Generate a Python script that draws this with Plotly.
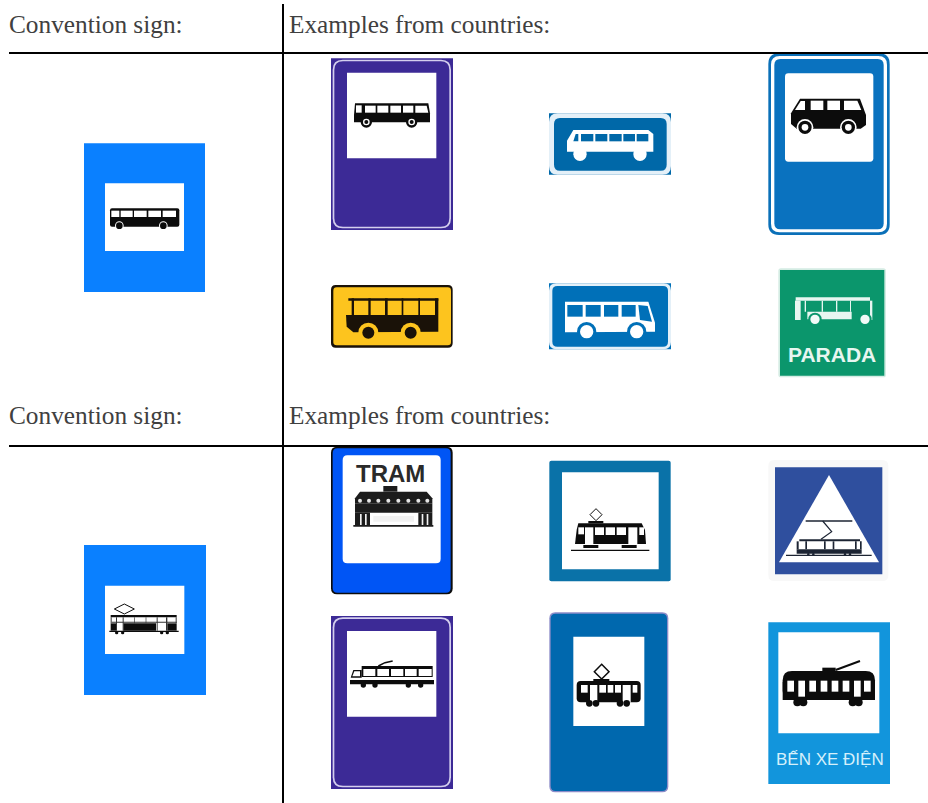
import plotly.graph_objects as go

HEADER_LEFT = "Convention sign:"
HEADER_RIGHT = "Examples from countries:"
HEADER_Y = [24, 415]
RULE_Y = [53, 446]
RULE_X = 283
SIGN_TEXTS = {"parada": "PARADA", "tram": "TRAM", "ben": "BẾN XE ĐIỆN"}

PURPLE = "#3c2a96"
LAVENDER = "#d4cfee"
ROYAL = "#0a80ff"
BK = "#0c0c0c"
WH = "#ffffff"

shapes = []
annos = []


def nb(**k):
    k.setdefault("line", dict(width=0))
    k.update(layer="above", xref="x", yref="y")
    shapes.append(k)


class Z:

    def __init__(self, ox, oy):
        self.ox, self.oy = ox, oy

    def X(self, v):
        return self.ox + v / 3

    def Y(self, v):
        return self.oy + v / 3

    def rect(self, x0, y0, x1, y1, c):
        nb(type="rect", x0=self.X(x0), y0=self.Y(y0), x1=self.X(x1), y1=self.Y(y1), fillcolor=c)

    def rr(self, x0, y0, x1, y1, r, c):
        a, b, d, e = self.X(x0), self.Y(y0), self.X(x1), self.Y(y1)
        r = r / 3
        p = (f"M{a+r},{b}L{d-r},{b}Q{d},{b} {d},{b+r}L{d},{e-r}Q{d},{e} {d-r},{e}"
             f"L{a+r},{e}Q{a},{e} {a},{e-r}L{a},{b+r}Q{a},{b} {a+r},{b}Z")
        nb(type="path", path=p, fillcolor=c)

    def circ(self, cx, cy, r, c):
        nb(type="circle", x0=self.X(cx - r), y0=self.Y(cy - r), x1=self.X(cx + r), y1=self.Y(cy + r), fillcolor=c)

    def poly(self, pts, c, outline=None, w=1):
        p = "M" + "L".join(f"{self.X(x)},{self.Y(y)}" for x, y in pts) + "Z"
        nb(type="path", path=p, fillcolor=c, line=dict(width=w, color=outline) if outline else dict(width=0))

    def line(self, pts, c, w=1):
        p = "M" + "L".join(f"{self.X(x)},{self.Y(y)}" for x, y in pts)
        nb(type="path", path=p, line=dict(color=c, width=w))

    def rects(self, lst, c):
        for x0, y0, x1, y1 in lst:
            self.rect(x0, y0, x1, y1, c)

    def diamond(self, cx, cy, hx, hy, w=1):
        self.poly([(cx, cy - hy), (cx + hx, cy), (cx, cy + hy), (cx - hx, cy)], WH, BK, w)

    def text(self, t, x, y, size, color, font="Liberation Sans"):
        annos.append(dict(text=t, x=self.X(x), y=self.Y(y), xref="x", yref="y", showarrow=False,
                          xanchor="center", yanchor="middle",
                          font=dict(size=size, color=color, family=font)))


def purple_frame(z, y0, y1, py0, py1):
    z.rect(33, y0, 399, y1, PURPLE)
    z.rr(38, y0 + 4, 393, y1 - 5, 30, LAVENDER)
    z.rr(43, y0 + 9, 388, y1 - 10, 26, PURPLE)
    z.rect(81, py0, 349, py1, WH)


# Left column: convention bus
z = Z(80, 140)
z.rect(12, 10, 375, 456, ROYAL)
z.rect(75, 130, 312, 333, WH)
z.rr(90, 205, 298, 260, 6, BK)
z.rects([(94, 212, 118, 231), (122, 212, 158, 231), (162, 212, 200, 231), (205, 212, 243, 231), (248, 212, 288, 231)], WH)
for cx in (118, 250):
    z.circ(cx, 257, 13, WH)
    z.circ(cx, 257, 10, BK)

# Left column: convention tram
z = Z(80, 540)
z.rect(12, 15, 378, 465, ROYAL)
z.rect(75, 137, 313, 342, WH)
z.diamond(133, 207, 30, 15, 1)
z.rects([(92, 225, 290, 232), (92, 250, 108, 272), (130, 250, 228, 272), (262, 250, 290, 272), (88, 272, 296, 276)], BK)
z.rects([(92, 232, 95, 250), (108, 232, 111, 272), (128, 232, 131, 272), (163, 232, 165, 250), (197, 232, 199, 250),
         (230, 232, 233, 272), (258, 232, 262, 272), (287, 232, 290, 250), (95, 245, 290, 248)], "#333333")
for cx in (110, 128, 245, 262):
    z.circ(cx, 278, 5, BK)

# Top row bus examples
z = Z(320, 50)
purple_frame(z, 25, 540, 68, 325)
z.poly([(105, 160), (325, 160), (330, 190), (330, 217), (102, 217), (102, 195)], BK)
z.rects([(108, 166, 125, 188), (135, 167, 167, 188), (172, 167, 205, 188), (211, 167, 243, 188), (249, 167, 280, 188)], WH)
z.poly([(286, 167), (320, 167), (325, 188), (286, 188)], WH)
for cx in (139, 275):
    z.circ(cx, 216, 17, BK)
    z.circ(cx, 216, 10, WH)
    z.circ(cx, 216, 6, BK)

# Blue rectangle bus
z.rect(687, 190, 1053, 374, "#0068a8")
z.rr(687, 190, 1053, 374, 26, "#e4f0f8")
z.rr(702, 204, 1040, 362, 18, "#0068a8")
z.poly([(760, 240), (985, 240), (1000, 252), (1000, 305), (741, 305), (741, 272)], WH)
z.poly([(760, 274), (775, 274), (775, 252), (767, 252)], "#0068a8")
z.rects([(783, 252, 820, 274), (826, 252, 862, 274), (868, 252, 905, 274), (910, 252, 945, 274), (950, 252, 985, 274)], "#0068a8")
for cx in (780, 960):
    z.circ(cx, 313, 20, WH)

# Blue rounded bus sign
z = Z(740, 50)
z.rr(85, 10, 449, 555, 32, "#0b70b8")
z.rr(93, 18, 441, 547, 26, WH)
z.rr(103, 27, 431, 538, 18, "#0a72bf")
z.rr(135, 70, 400, 335, 10, WH)
z.poly([(180, 146), (360, 146), (378, 195), (378, 225), (362, 236), (170, 236), (153, 222), (153, 190)], BK)
z.poly([(165, 180), (195, 180), (195, 153), (182, 153)], WH)
z.rects([(212, 152, 250, 180), (262, 152, 300, 180)], WH)
z.poly([(312, 152), (352, 152), (364, 180), (312, 180)], WH)
for cx in (195, 325):
    z.circ(cx, 232, 25, WH)
    z.circ(cx, 232, 20, BK)
    z.circ(cx, 232, 10, WH)

# Yellow bus sign
z = Z(320, 270)
z.rr(33, 45, 398, 233, 14, "#1a1208")
z.rr(40, 52, 393, 226, 10, "#fdc41e")
z.rects([(85, 85, 355, 92), (95, 85, 102, 135), (145, 85, 152, 135), (195, 85, 203, 135), (245, 85, 250, 135),
         (295, 85, 300, 135), (345, 85, 355, 135)], "#1a1208")
z.poly([(78, 135), (355, 135), (355, 185), (100, 187), (80, 170)], "#1a1208")
for cx in (145, 272):
    z.circ(cx, 188, 30, "#fdc41e")
    z.circ(cx, 188, 18, "#1a1208")

# Blue bus sign 2
z.rect(687, 40, 1053, 238, "#0070b8")
z.rr(687, 40, 1053, 238, 22, "#e4f0f8")
z.rr(697, 48, 1044, 230, 15, "#0070b8")
z.poly([(735, 95), (985, 95), (1005, 158), (1005, 185), (735, 187)], WH)
z.rects([(742, 105, 788, 140), (797, 105, 842, 140), (852, 105, 895, 140), (905, 105, 947, 140)], "#0070b8")
z.poly([(955, 105), (983, 108), (996, 155), (960, 150)], "#0070b8")
for cx in (800, 950):
    z.circ(cx, 185, 29, "#0070b8")
    z.circ(cx, 185, 20, WH)

# Green PARADA sign
z = Z(760, 260)
GREEN = "#0b966c"
z.rr(55, 25, 378, 352, 8, "#d4ece3")
z.rect(60, 30, 373, 347, GREEN)
z.rects([(107, 112, 330, 122), (105, 122, 122, 180), (142, 155, 275, 178), (330, 122, 337, 180),
         (134, 122, 138, 155), (185, 122, 189, 155), (228, 122, 232, 155), (270, 122, 273, 155)], "#e8f6f1")
for cx in (165, 315):
    z.circ(cx, 178, 20, GREEN)
    z.circ(cx, 178, 14, "#f2faf7")
z.text("<b>" + SIGN_TEXTS["parada"] + "</b>", 216, 282, 21, "#e8f6f1")

# Blue TRAM sign
z = Z(320, 440)
z.rr(33, 20, 398, 463, 18, BK)
z.rr(38, 25, 392, 458, 14, "#0055f5")
z.rr(68, 46, 362, 370, 14, WH)
z.text("<b>" + SIGN_TEXTS["tram"] + "</b>", 210, 100, 24, "#2a2a2a")
DK = "#1c1c1c"
z.poly([(105, 175), (120, 155), (320, 155), (337, 175), (337, 190), (105, 190)], DK)
z.rects([(105, 190, 337, 218), (105, 218, 150, 256), (295, 218, 337, 256), (100, 255, 340, 260), (190, 138, 232, 155)], DK)
for cx in (120, 147, 175, 205, 235, 265, 295, 322):
    z.circ(cx, 182, 6, "#e6e6e6")
z.rects([(160, 228, 282, 245), (120, 222, 125, 255), (135, 222, 140, 255), (305, 222, 310, 255), (320, 222, 325, 255)], "#f2f2f2")

# Teal tram square
TEAL = "#0a72a8"
z.rr(688, 62, 1052, 424, 6, TEAL)
z.rect(726, 97, 1016, 388, WH)
z.poly([(775, 250), (965, 250), (975, 270), (978, 312), (765, 312), (770, 270)], BK)
z.rects([(775, 262, 792, 283), (795, 262, 820, 312), (825, 262, 852, 285), (857, 262, 885, 285), (890, 262, 918, 285),
         (925, 262, 952, 312), (958, 262, 972, 285)], WH)
z.rects([(790, 315, 835, 324), (905, 315, 950, 324), (753, 329, 988, 333), (805, 243, 850, 250)], BK)
z.diamond(828, 224, 18, 18, 1)

# Triangle tram sign
z = Z(760, 450)
NAVY = "#2f4f9e"
z.rr(25, 30, 385, 393, 18, "#f8f8f8")
z.rect(45, 52, 367, 373, NAVY)
z.poly([(207, 75), (357, 337), (57, 337)], WH)
z.rects([(137, 211, 277, 215), (78, 314, 335, 318), (118, 268, 300, 274), (110, 298, 305, 311)], "#1c2433")
z.rects([(110, 274, 116, 298), (136, 274, 141, 298), (192, 274, 197, 298), (218, 274, 223, 298), (285, 274, 290, 298), (300, 274, 305, 298)], "#1c2433")
z.line([(188, 213), (215, 245), (183, 268)], "#1c2433", 1.2)
for cx in (145, 160, 255, 270):
    z.circ(cx, 313, 4, "#1c2433")

# Purple tram sign
z = Z(320, 605)
purple_frame(z, 33, 552, 78, 335)
z.rect(125, 183, 338, 216, BK)
z.rects([(130, 192, 166, 213), (172, 192, 207, 213), (213, 192, 250, 213), (255, 192, 290, 213), (296, 192, 335, 213)], WH)
z.poly([(92, 218), (100, 195), (125, 195), (125, 218)], BK)
z.poly([(97, 214), (103, 199), (120, 199), (120, 214)], WH)
z.rect(90, 225, 342, 238, BK)
for cx in (130, 165, 265, 302):
    z.circ(cx, 240, 8, BK)
z.line([(175, 183), (195, 173), (218, 168)], BK, 1.5)

# Blue tram sign with outline
BLUE2 = "#0068ae"
z.rr(688, 22, 1045, 562, 18, "#8c8cc8")
z.rr(692, 26, 1041, 558, 15, BLUE2)
z.rect(760, 95, 973, 363, WH)
z.rr(770, 228, 962, 292, 12, BK)
z.rects([(783, 240, 803, 263), (810, 240, 832, 292), (838, 240, 858, 263), (863, 240, 880, 263), (885, 240, 903, 263),
         (908, 240, 932, 292), (938, 240, 952, 263)], WH)
z.rect(820, 222, 868, 230, BK)
z.diamond(845, 200, 22, 22, 1.5)
for cx in (808, 828, 900, 920):
    z.circ(cx, 295, 10, BK)

# Vietnamese tram sign
z = Z(760, 615)
z.rect(25, 22, 390, 507, "#1295dc")
z.rect(55, 52, 358, 355, WH)
z.rr(68, 168, 345, 255, 28, BK)
z.rect(68, 200, 345, 255, BK)
z.rects([(82, 197, 102, 230), (115, 197, 135, 245), (148, 197, 168, 230), (182, 197, 202, 230), (215, 197, 235, 230),
         (248, 197, 268, 230), (282, 197, 302, 245), (312, 197, 332, 230)], WH)
z.rect(187, 158, 227, 170, BK)
z.line([(227, 165), (300, 138)], BK, 2)
for cx in (112, 130, 278, 296):
    z.circ(cx, 262, 12, BK)
z.text(SIGN_TEXTS["ben"], 209, 432, 17, "#d5f0fb")

# Table rules and headers
nb(type="line", x0=RULE_X, x1=RULE_X, y0=4, y1=803, line=dict(color="#000000", width=2))
for ry in RULE_Y:
    nb(type="line", x0=9, x1=928, y0=ry, y1=ry, line=dict(color="#000000", width=2))
for hy in HEADER_Y:
    for tx, hx in ((HEADER_LEFT, 7), (HEADER_RIGHT, 287)):
        annos.append(dict(text=tx, x=hx, y=hy, xref="x", yref="y", showarrow=False, xanchor="left", yanchor="middle",
                          font=dict(size=25.3, color="#404040", family="Liberation Serif")))

fig = go.Figure()
fig.update_layout(width=928, height=803, margin=dict(l=0, r=0, t=0, b=0), paper_bgcolor="#fff", plot_bgcolor="#fff",
                  xaxis=dict(range=[0, 928], visible=False, fixedrange=True),
                  yaxis=dict(range=[803, 0], visible=False, fixedrange=True),
                  shapes=shapes, annotations=annos, showlegend=False)
fig.write_html("out.html", config={"displayModeBar": False},
               post_script="document.body.style.margin='0';document.documentElement.style.overflow='hidden';")
